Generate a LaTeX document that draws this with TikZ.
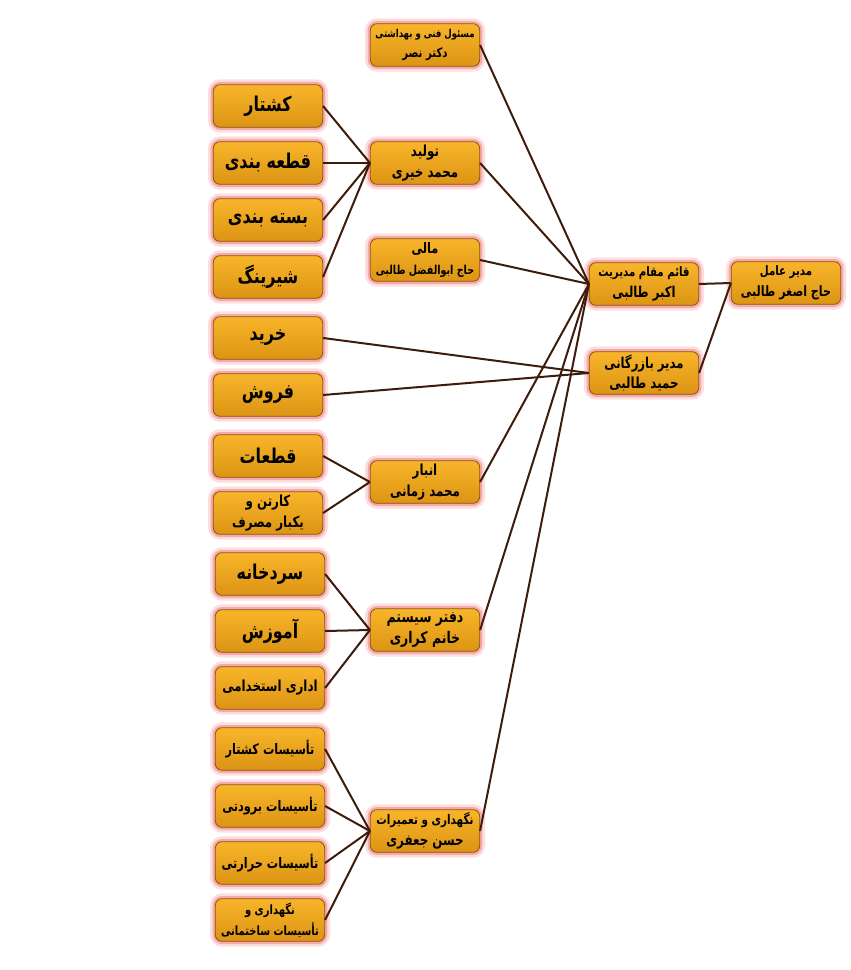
\documentclass[tikz,border=0pt]{standalone}
\usepackage{fontspec}
\newfontfamily\fafont[Script=Arabic, FakeStretch=0.78]{DejaVu Sans}
\TeXXeTstate=1
\usetikzlibrary{positioning}
\definecolor{cbox}{HTML}{F8B52A}
\definecolor{cboxdark}{HTML}{DC9414}
\definecolor{cedge}{HTML}{8A5418}
\definecolor{cglow}{HTML}{F06A6A}
\definecolor{clink}{HTML}{3E1C0C}
\newcommand{\fatext}[1]{{\fafont\bfseries\beginR #1\endR}}
\newcommand{\fasize}[1]{\fontsize{#1}{15.5}\selectfont}
\tikzset{
  every picture/.style={x=0.75pt, y=-0.75pt},
  box/.style={draw=cedge, line width=0.6pt, top color=cbox, bottom color=cboxdark,
    rounded corners=5pt, align=center, inner sep=2pt, minimum width=82pt, minimum height=32pt,
    font=\fasize{10}, preaction={draw=cglow, line width=8pt, opacity=0.22},
    preaction={draw=cglow, line width=4pt, opacity=0.45}},
  link/.style={draw=clink, line width=1.5pt},
}

\begin{document}
\begin{tikzpicture}
  \useasboundingbox (0,0) rectangle (850,970);
  % top management
  \node[box] (amel) at (786,283) {\fasize{9.8}\fatext{مدیر عامل}\\\fasize{10.7}\fatext{حاج اصغر طالبی}};
  \node[box] (ghaem) at (644,284) {\fasize{9.8}\fatext{قائم مقام مدیریت}\\\fasize{11.2}\fatext{اکبر طالبی}};
  \node[box] (bazar) at (644,373) {\fasize{11.2}\fatext{مدیر بازرگانی}\\\fasize{11.4}\fatext{حمید طالبی}};
  \draw[link] (ghaem.east) -- (amel.west);
  \draw[link] (bazar.east) -- (amel.west);
  % units under ghaem
  \node[box] (fani) at (425,45) {\fasize{8.2}\fatext{مسئول فنی و بهداشتی}\\\fasize{9.8}\fatext{دکتر نصر}};
  \node[box, font=\fasize{11.4}] (tolid) at (425,163) {\fatext{تولید}\\\fatext{محمد خیری}};
  \node[box] (mali) at (425,260) {\fasize{10.9}\fatext{مالی}\\\fasize{9.2}\fatext{حاج ابوالفضل طالبی}};
  \node[box, font=\fasize{11.4}] (anbar) at (425,482) {\fatext{انبار}\\\fatext{محمد زمانی}};
  \node[box, font=\fasize{12}] (daftar) at (425,630) {\fatext{دفتر سیستم}\\\fatext{خانم کراری}};
  \node[box] (negah) at (425,831) {\fasize{10}\fatext{نگهداری و تعمیرات}\\\fasize{11.4}\fatext{حسن جعفری}};
  \foreach \n in {fani, tolid, mali, anbar, daftar, negah}
    \draw[link] (\n.east) -- (ghaem.west);
  % sections
  \foreach \y/\n/\t in {106/kosh/{کشتار}, 163/ghat/{قطعه بندی}, 220/bast/{بسته بندی}, 277/shir/{شیرینگ}} {
    \node[box, font=\fasize{15.3}] (\n) at (268,\y) {\fatext{\t}};
    \draw[link] (\n.east) -- (tolid.west);
  }
  \foreach \y/\n/\t in {338/kharid/{خرید}, 395/forush/{فروش}} {
    \node[box, font=\fasize{15.3}] (\n) at (268,\y) {\fatext{\t}};
    \draw[link] (\n.east) -- (bazar.west);
  }
  \node[box, font=\fasize{15.3}] (ghataat) at (268,456) {\fatext{قطعات}};
  \node[box, font=\fasize{11.4}] (karton) at (268,513) {\fatext{کارتن و}\\\fatext{یکبار مصرف}};
  \foreach \n in {ghataat, karton}
    \draw[link] (\n.east) -- (anbar.west);
  \node[box, font=\fasize{15.3}] (sard) at (270,574) {\fatext{سردخانه}};
  \node[box, font=\fasize{15.3}] (amuz) at (270,631) {\fatext{آموزش}};
  \node[box, font=\fasize{11.4}] (edari) at (270,688) {\fatext{اداری استخدامی}};
  \foreach \n in {sard, amuz, edari}
    \draw[link] (\n.east) -- (daftar.west);
  \foreach \y/\n/\t in {749/tkosh/{تأسیسات کشتار}, 806/tbar/{تأسیسات برودتی}, 863/thar/{تأسیسات حرارتی}} {
    \node[box, font=\fasize{10.9}] (\n) at (270,\y) {\fatext{\t}};
    \draw[link] (\n.east) -- (negah.west);
  }
  \node[box, font=\fasize{9.6}] (tsakh) at (270,920) {\fatext{نگهداری و}\\\fatext{تأسیسات ساختمانی}};
  \draw[link] (tsakh.east) -- (negah.west);
\end{tikzpicture}
\end{document}
